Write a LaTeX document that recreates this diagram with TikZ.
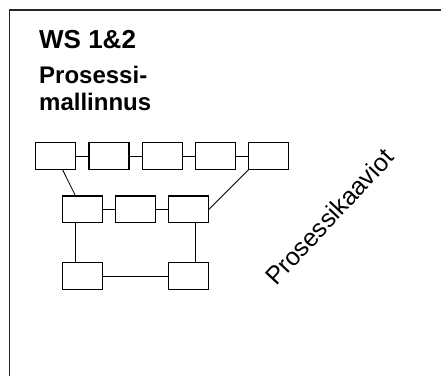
\documentclass[tikz,border=0pt]{standalone}
\usepackage{fontspec}
\setmainfont{Liberation Sans}
\usetikzlibrary{positioning}
\tikzset{
  stepbox/.style={rectangle, draw=black, minimum width=40pt, minimum height=26.7pt,
    inner sep=0pt, outer sep=0pt, line width=1.1pt},
  link/.style={line width=0.8pt, color=black},
  frame/.style={line width=1.2pt, color=black!85},
  title/.style={anchor=base west, inner sep=0pt, font=\fontsize{26}{30}\selectfont\bfseries},
  subtitle/.style={anchor=north west, align=left, inner sep=0pt, font=\fontsize{24}{27}\selectfont\bfseries}
}

\begin{document}
\begin{tikzpicture}[x=1pt, y=-1pt, node distance=13.3pt and 13.3pt]
  \useasboundingbox (0,0) rectangle (441,376);
  \draw[frame] (441,10) -- (9.5,10) -- (9.5,376);

  \node[title] (ws) at (39,48) {WS 1\&2};
  \node[subtitle] (pm) at (39,65.8) {Prosessi-\\mallinnus};

  % top row
  \node[stepbox] (t1) at (55.7,156) {};
  \node[stepbox, right=of t1] (t2) {};
  \node[stepbox, right=of t2] (t3) {};
  \node[stepbox, right=of t3] (t4) {};
  \node[stepbox, right=of t4] (t5) {};
  \draw[link] (t1) -- (t2);
  \draw[link] (t2) -- (t3);
  \draw[link] (t3) -- (t4);
  \draw[link] (t4) -- (t5);

  % middle row
  \node[stepbox] (m1) at (82.3,209.3) {};
  \node[stepbox, right=of m1] (m2) {};
  \node[stepbox, right=of m2] (m3) {};
  \draw[link] (m1) -- (m2);
  \draw[link] (m2) -- (m3);
  \draw[link] (t1) -- (m1);
  \draw[link] (t5.south west) -- (m3.east);

  % bottom row
  \node[stepbox, below=40pt of m1] (b1) {};
  \node[stepbox, below=40pt of m3] (b3) {};
  \draw[link] ([xshift=-6.5pt]m1.south) -- ([xshift=-6.5pt]b1.north);
  \draw[link] ([xshift=6.5pt]m3.south) -- ([xshift=6.5pt]b3.north);
  \draw[link] (b1) -- (b3);

  \node[rotate=47, anchor=base west, inner sep=0pt, font=\fontsize{25}{29}\selectfont] (pk) at (276,287) {Prosessikaaviot};
\end{tikzpicture}
\end{document}
